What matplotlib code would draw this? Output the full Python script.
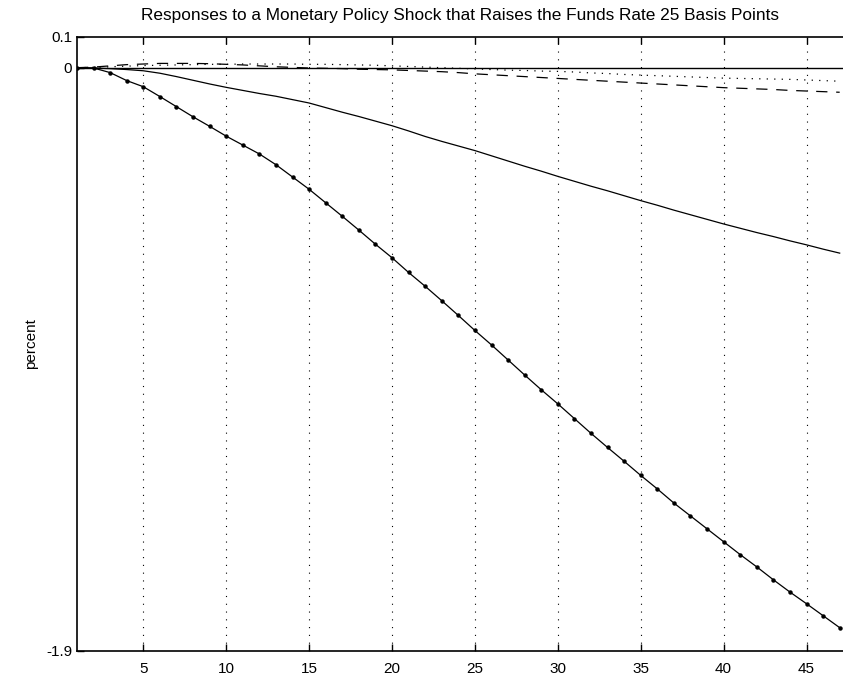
import matplotlib
matplotlib.use("Agg")
import matplotlib.pyplot as plt
import numpy as np

plt.rcParams['font.family'] = ['Liberation Sans', 'DejaVu Sans']

months = list(range(1, 48))

series_marked = [0.0, -0.001, -0.016, -0.042, -0.062, -0.094, -0.127, -0.160, -0.191, -0.223,
                 -0.252, -0.281, -0.316, -0.356, -0.396, -0.440, -0.484, -0.529, -0.575, -0.619,
                 -0.667, -0.712, -0.759, -0.807, -0.856, -0.903, -0.952, -1.001, -1.049, -1.095,
                 -1.143, -1.191, -1.237, -1.282, -1.328, -1.372, -1.418, -1.460, -1.502, -1.544,
                 -1.586, -1.626, -1.668, -1.708, -1.746, -1.785, -1.824]

series_solid = [0.0, -0.001, -0.003, -0.006, -0.010, -0.018, -0.029, -0.041, -0.053, -0.064,
                -0.074, -0.084, -0.093, -0.104, -0.115, -0.130, -0.145, -0.159, -0.174, -0.189,
                -0.206, -0.224, -0.240, -0.255, -0.270, -0.287, -0.304, -0.321, -0.337, -0.354,
                -0.370, -0.386, -0.401, -0.417, -0.433, -0.448, -0.464, -0.479, -0.494, -0.509,
                -0.523, -0.537, -0.550, -0.564, -0.577, -0.591, -0.604]

series_dashed = [0.0, 0.002, 0.006, 0.010, 0.012, 0.014, 0.014, 0.014, 0.013, 0.011,
                 0.009, 0.006, 0.003, 0.001, -0.001, -0.002, -0.003, -0.005, -0.006, -0.007,
                 -0.009, -0.011, -0.013, -0.016, -0.020, -0.023, -0.026, -0.029, -0.032, -0.035,
                 -0.038, -0.041, -0.044, -0.047, -0.050, -0.053, -0.056, -0.059, -0.062, -0.065,
                 -0.067, -0.069, -0.071, -0.074, -0.076, -0.078, -0.080]

series_dotted = [0.0, 0.001, 0.003, 0.005, 0.007, 0.008, 0.009, 0.010, 0.011, 0.011,
                 0.012, 0.012, 0.012, 0.012, 0.011, 0.011, 0.010, 0.009, 0.008, 0.006,
                 0.004, 0.002, 0.000, -0.002, -0.004, -0.006, -0.008, -0.009, -0.011, -0.012,
                 -0.014, -0.017, -0.019, -0.022, -0.024, -0.026, -0.028, -0.030, -0.032, -0.034,
                 -0.035, -0.036, -0.037, -0.038, -0.040, -0.042, -0.044]

x_ticks = [5, 10, 15, 20, 25, 30, 35, 40, 45]
y_ticks = [0.1, 0, -1.9]
y_tick_labels = ["0.1", "0", "-1.9"]
title = "Responses to a Monetary Policy Shock that Raises the Funds Rate 25 Basis Points"

fig = plt.figure(figsize=(8.43, 6.76), dpi=100)
ax = fig.add_axes([77/843, 1 - 651/676, 1 - 77/843, (651 - 37)/676])

ax.axhline(0, color='black', lw=1.0, zorder=2)
ax.plot(months, series_marked, color='black', lw=0.9, marker='o', markersize=2.2, zorder=3)
ax.plot(months, series_solid, color='black', lw=0.9, zorder=3)
ax.plot(months, series_dashed, color='black', lw=0.9, ls=(0, (9, 7)), zorder=3)
ax.plot(months, series_dotted, color='black', lw=0.9, ls=(0, (1, 5)), zorder=3)

ax.set_xlim(1, 47.2)
ax.set_ylim(-1.9, 0.1)
ax.set_xticks(x_ticks)
ax.set_yticks(y_ticks)
ax.set_yticklabels(y_tick_labels)
ax.tick_params(axis='both', direction='in', labelsize=11, length=5, width=1, top=True)
ax.tick_params(axis='x', pad=8)
ax.grid(axis='x', color='black', ls=(0, (1, 6)), lw=0.8)
ax.spines['right'].set_visible(False)
for s in ['left', 'bottom', 'top']:
    ax.spines[s].set_linewidth(1.2)
ax.set_ylabel('percent', fontsize=11, labelpad=6)
ax.set_title(title, fontsize=12.4, pad=12)

fig.savefig('out.png', dpi=100)
